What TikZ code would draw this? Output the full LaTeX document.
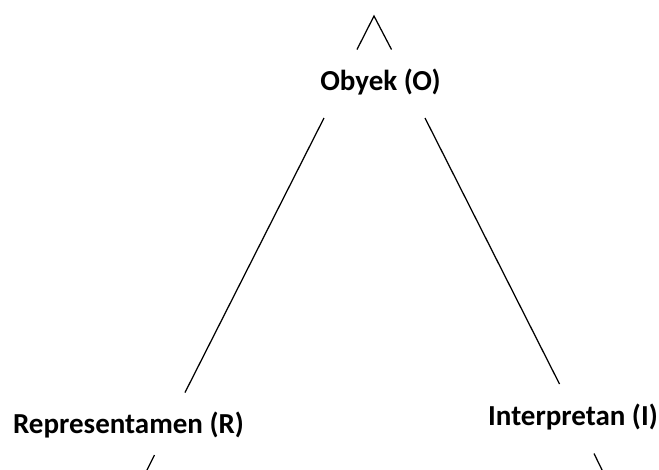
\documentclass[tikz,border=0pt]{standalone}
\usepackage{fontspec}
\setmainfont{Carlito}
\begin{document}
\begin{tikzpicture}[x=1pt,y=-1pt,
  label/.style={anchor=base,inner sep=0pt,font=\fontsize{29}{34}\selectfont\bfseries},
  edge/.style={line width=1.25pt,line join=miter}]
  \useasboundingbox (0,0) rectangle (659,469);
  \clip (0,0) rectangle (659,469);

  % the three corners of the sign triangle
  \node[label] (O) at (380.5,90) {Obyek (O)};
  \node[label] (R) at (128.5,433) {Representamen (R)};
  \node[label] (I) at (573,425.5) {Interpretan (I)};

  % ends of the triangle sides
  \coordinate (ROlow) at (185,392.5);
  \coordinate (ROhigh) at (324,118);
  \coordinate (IOhigh) at (425,118);
  \coordinate (IOlow) at (559.5,384);

  \draw[edge] (ROlow) -- (ROhigh);
  \draw[edge] (IOhigh) -- (IOlow);

  % sides continuing to further triangles
  \coordinate (capL) at (357,49.5);
  \coordinate (capT) at (374,16);
  \coordinate (capR) at (391.5,49.5);
  \draw[edge] (capL) -- (capT) -- (capR);

  \coordinate (blA) at (154.5,455);
  \coordinate (blB) at (145,474);
  \draw[edge] (blA) -- (blB);

  \coordinate (brA) at (594,453.5);
  \coordinate (brB) at (604,474);
  \draw[edge] (brA) -- (brB);
\end{tikzpicture}
\end{document}
